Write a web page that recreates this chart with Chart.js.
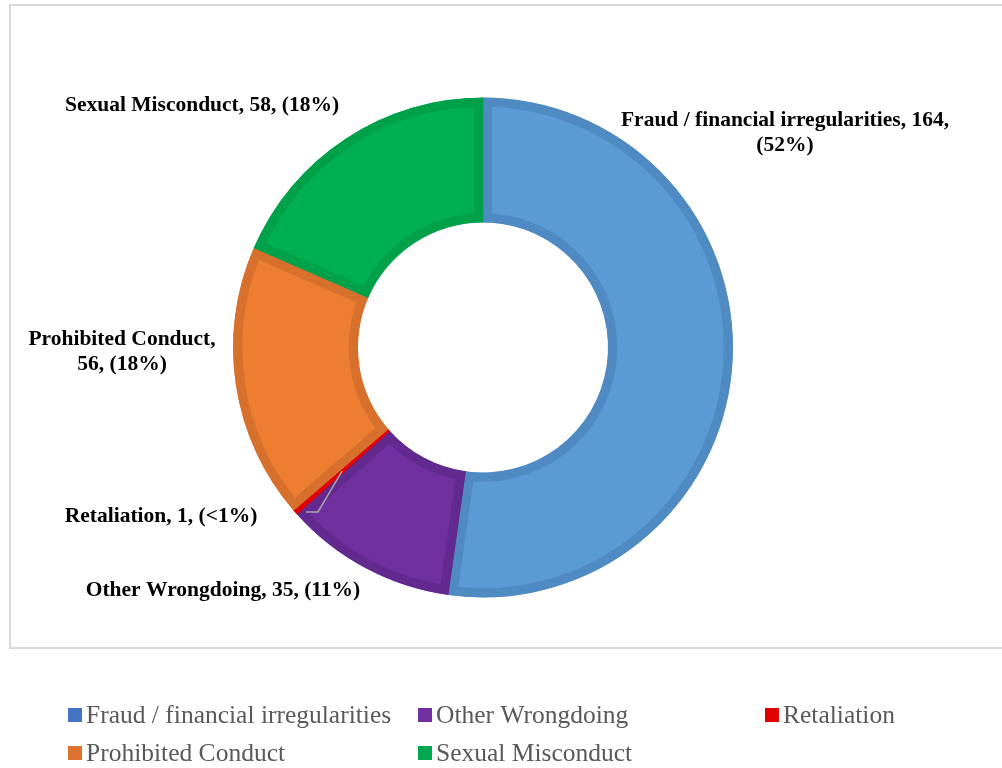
<!DOCTYPE html>
<html>
<head>
<meta charset="utf-8">
<script src="https://cdn.jsdelivr.net/npm/chart.js@4.4.0/dist/chart.umd.min.js"></script>
<style>
  html, body { margin: 0; padding: 0; background: #fff; }
  canvas { display: block; }
</style>
</head>
<body>
<canvas id="chart" width="1002" height="768"></canvas>
<script>
// data
const categories = ['Fraud / financial irregularities', 'Other Wrongdoing', 'Retaliation', 'Prohibited Conduct', 'Sexual Misconduct'];
const counts = [164, 35, 1, 56, 58];

// styling
const fillColors = ['#5B9BD5', '#7030A0', '#FF0000', '#ED7D31', '#00B050'];
const edgeColors = ['#4F8AC2', '#62298F', '#E00000', '#D6702C', '#00A149'];
const legendColors = ['#4472C4', '#7030A0', '#E00000', '#DE7330', '#00A650'];

const total = counts.reduce((a, b) => a + b, 0);
function pctText(v) {
    const p = v / total * 100;
    return p < 1 ? '(<1%)' : '(' + Math.round(p) + '%)';
}

// where each data label sits (canvas px, centre of each text line)
const labelSpots = [
    { lines: (l, v, p) => [l + ', ' + v + ',', p], x: 785, y: 120 },
    { lines: (l, v, p) => [l + ', ' + v + ', ' + p], x: 223, y: 590 },
    { lines: (l, v, p) => [l + ', ' + v + ', ' + p], x: 161, y: 516, leader: [[318, 512], [306, 512]] },
    { lines: (l, v, p) => [l + ',', v + ', ' + p], x: 122, y: 339 },
    { lines: (l, v, p) => [l + ', ' + v + ', ' + p], x: 202, y: 105 }
];

const frameAndLabels = {
    id: 'frameAndLabels',
    beforeDraw(chart) {
        const ctx = chart.ctx;
        ctx.save();
        ctx.strokeStyle = '#D9D9D9';
        ctx.lineWidth = 2;
        ctx.strokeRect(10, 5, 1010, 643);
        ctx.restore();
    },
    afterDraw(chart) {
        const ctx = chart.ctx;
        const arcs = chart.getDatasetMeta(0).data;
        ctx.save();
        // leader lines
        labelSpots.forEach((s, i) => {
            if (!s.leader) return;
            const a = arcs[i];
            const mid = (a.startAngle + a.endAngle) / 2;
            const r = (a.innerRadius + a.outerRadius) / 2;
            ctx.beginPath();
            ctx.moveTo(a.x + Math.cos(mid) * r, a.y + Math.sin(mid) * r);
            s.leader.forEach(p => ctx.lineTo(p[0], p[1]));
            ctx.strokeStyle = '#A6A6A6';
            ctx.lineWidth = 1.5;
            ctx.stroke();
        });
        // data labels
        ctx.font = 'bold 21.5px "Liberation Serif", "Times New Roman", serif';
        ctx.fillStyle = '#000';
        ctx.textAlign = 'center';
        ctx.textBaseline = 'middle';
        labelSpots.forEach((s, i) => {
            const lines = s.lines(categories[i], counts[i], pctText(counts[i]));
            lines.forEach((t, k) => ctx.fillText(t, s.x, s.y + k * 25));
        });
        // legend (3 columns)
        ctx.font = '25.5px "Liberation Serif", "Times New Roman", serif';
        ctx.textAlign = 'left';
        const colX = [68, 418, 765];
        const rowY = [715, 753];
        categories.forEach((c, i) => {
            const x = colX[i % 3], y = rowY[Math.floor(i / 3)];
            ctx.fillStyle = legendColors[i];
            ctx.fillRect(x, y - 7, 14, 14);
            ctx.fillStyle = '#595959';
            ctx.fillText(c, x + 18, y + 1);
        });
        ctx.restore();
    }
};

new Chart(document.getElementById('chart'), {
    type: 'doughnut',
    data: {
        labels: categories,
        datasets: [{
            data: counts,
            backgroundColor: fillColors,
            borderColor: edgeColors,
            borderWidth: 9,
            borderAlign: 'inner',
            borderJoinStyle: 'miter',
            hoverOffset: 0
        }]
    },
    options: {
        responsive: false,
        animation: false,
        radius: 250,
        cutout: '50%',
        layout: { padding: { left: 233, right: 269, top: 97, bottom: 170 } },
        plugins: {
            legend: { display: false },
            tooltip: { enabled: false }
        }
    },
    plugins: [frameAndLabels]
});
</script>
</body>
</html>
